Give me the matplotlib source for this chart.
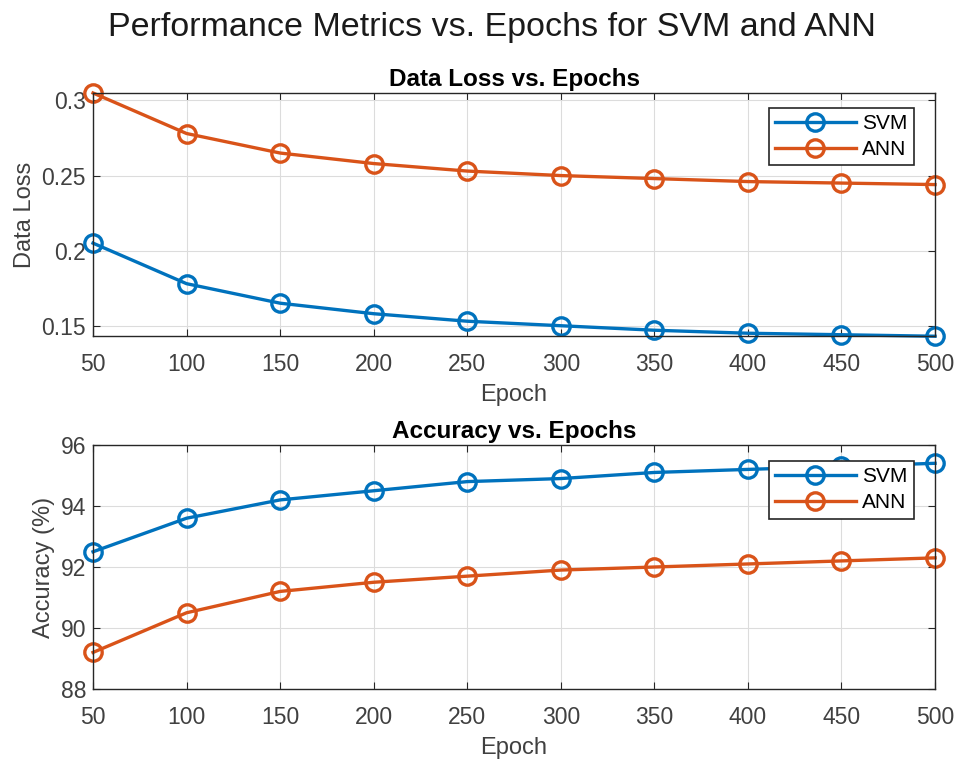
import matplotlib
matplotlib.use("Agg")
import matplotlib.pyplot as plt

epochs = [50, 100, 150, 200, 250, 300, 350, 400, 450, 500]
svm_loss = [0.205, 0.178, 0.165, 0.158, 0.153, 0.150, 0.147, 0.145, 0.144, 0.143]
ann_loss = [0.305, 0.278, 0.265, 0.258, 0.253, 0.250, 0.248, 0.246, 0.245, 0.244]
svm_acc = [92.5, 93.6, 94.2, 94.5, 94.8, 94.9, 95.1, 95.2, 95.3, 95.4]
ann_acc = [89.2, 90.5, 91.2, 91.5, 91.7, 91.9, 92.0, 92.1, 92.2, 92.3]
loss_yticks = [0.15, 0.2, 0.25, 0.3]
loss_yticklabels = ["0.15", "0.2", "0.25", "0.3"]
acc_yticks = [88, 90, 92, 94, 96]

plt.rcParams['font.family'] = ['Liberation Sans', 'DejaVu Sans']

BLUE = '#0072BD'
ORANGE = '#D95319'
TICKC = '#404040'

fig = plt.figure(figsize=(9.59, 7.59), dpi=100)
fig.patch.set_facecolor('white')

ax1 = fig.add_axes([0.097, 0.557, 0.878, 0.3205])
ax2 = fig.add_axes([0.097, 0.0922, 0.878, 0.3215])

def style(ax):
    ax.grid(True, color='#dcdcdc', linewidth=0.8)
    ax.set_axisbelow(True)
    ax.tick_params(direction='in', top=True, right=True, length=5,
                   labelsize=16.5, colors='#262626', labelcolor=TICKC)
    ax.tick_params(axis='x', pad=12)
    ax.tick_params(axis='y', pad=5)
    for s in ax.spines.values():
        s.set_color('#262626')
        s.set_linewidth(1.0)
    ax.set_xticks(epochs)
    ax.set_xlim(50, 500)

kw = dict(marker='o', markersize=12.5, markerfacecolor='none', linewidth=2.4,
          markeredgewidth=2.4, clip_on=False)

def legend(ax, anchor):
    leg = ax.legend(loc='upper right', fontsize=15, fancybox=False, framealpha=1,
                    edgecolor='#262626', bbox_to_anchor=anchor, borderaxespad=0,
                    handlelength=3.9, labelspacing=0.35, borderpad=0.3,
                    handletextpad=0.3)
    leg.get_frame().set_linewidth(1.2)
    leg.set_zorder(5)
    return leg

ax1.plot(epochs, svm_loss, color=BLUE, label='SVM', **kw)
ax1.plot(epochs, ann_loss, color=ORANGE, label='ANN', **kw)
style(ax1)
ax1.set_ylim(min(svm_loss), max(ann_loss))
ax1.set_yticks(loss_yticks)
ax1.set_yticklabels(loss_yticklabels)
ax1.set_title('Data Loss vs. Epochs', fontsize=17.5, fontweight='bold', pad=5)
ax1.set_xlabel('Epoch', fontsize=17, color=TICKC, labelpad=6)
ax1.set_ylabel('Data Loss', fontsize=17, color=TICKC, labelpad=4)
legend(ax1, (0.975, 0.94))

ax2.plot(epochs, svm_acc, color=BLUE, label='SVM', **kw)
ax2.plot(epochs, ann_acc, color=ORANGE, label='ANN', **kw)
style(ax2)
ax2.set_ylim(88, 96)
ax2.set_yticks(acc_yticks)
ax2.set_title('Accuracy vs. Epochs', fontsize=17.5, fontweight='bold', pad=5)
ax2.set_xlabel('Epoch', fontsize=17, color=TICKC, labelpad=6)
ax2.set_ylabel('Accuracy (%)', fontsize=17, color=TICKC, labelpad=4)
legend(ax2, (0.975, 0.935))

fig.suptitle('Performance Metrics vs. Epochs for SVM and ANN', fontsize=24.5,
             x=0.513, y=0.984, color='#1a1a1a')

fig.savefig('out.png', dpi=100, facecolor='white')
